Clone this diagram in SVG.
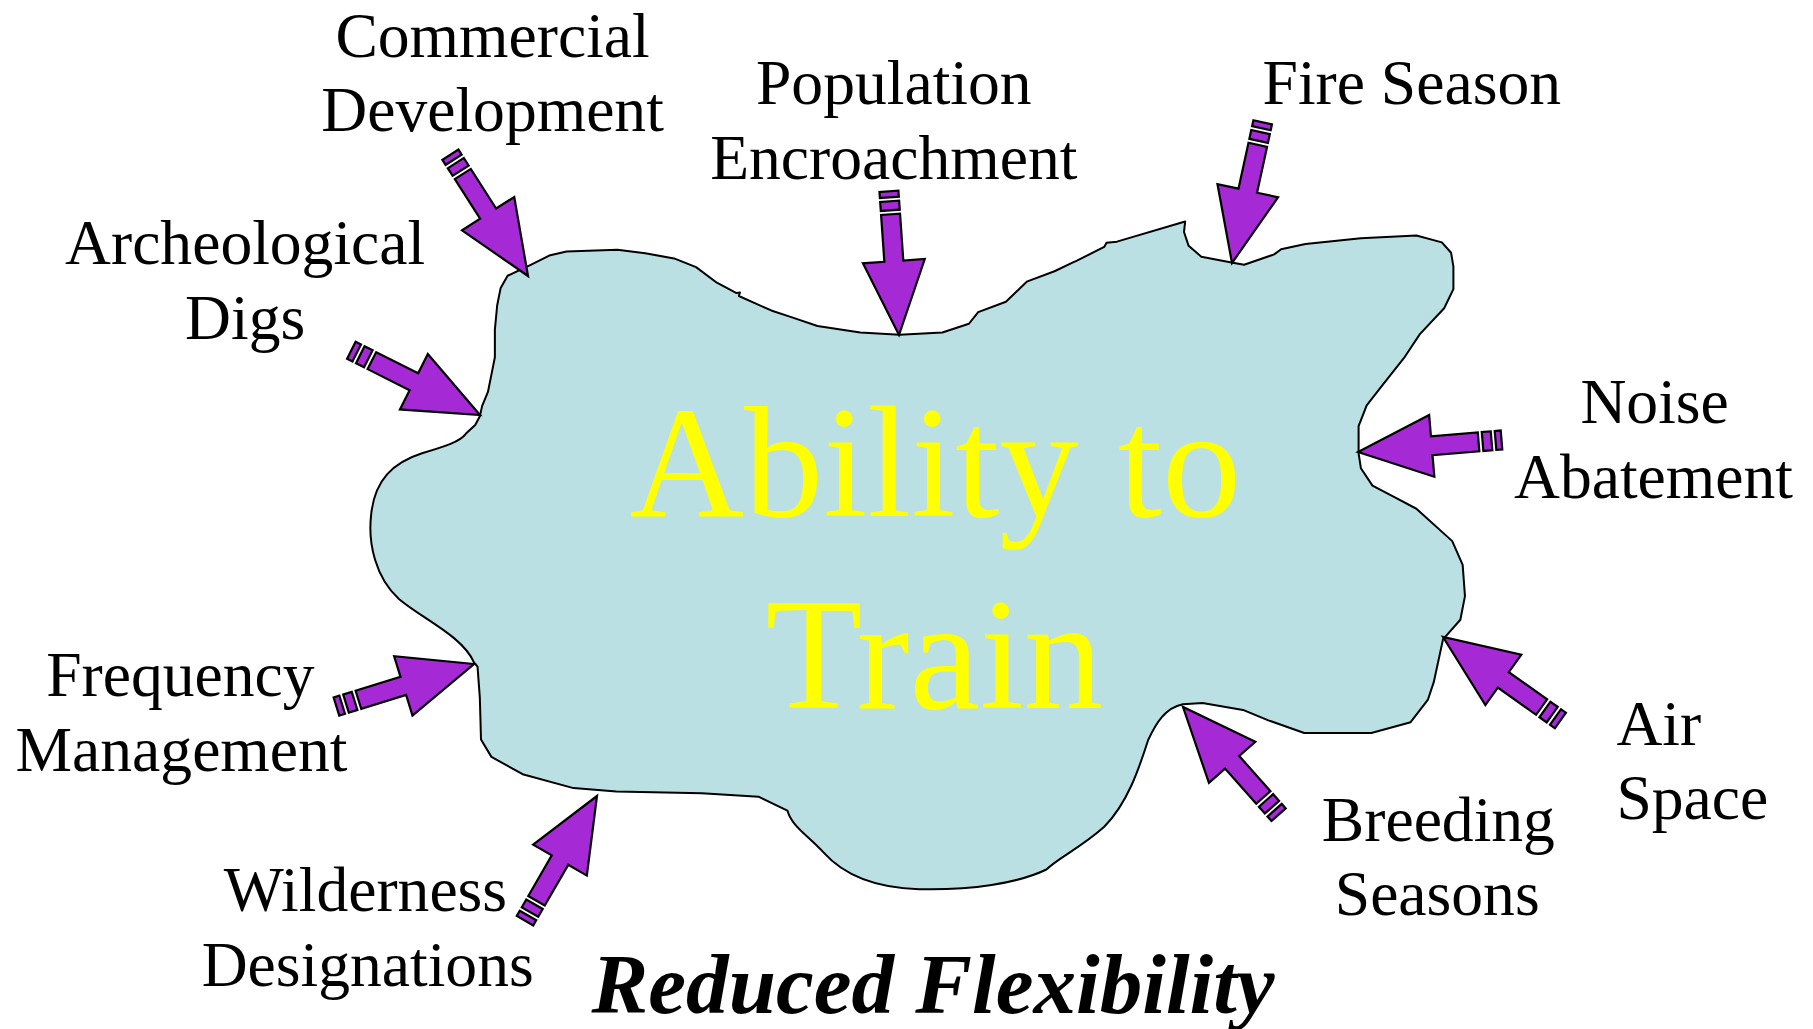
<svg xmlns="http://www.w3.org/2000/svg" width="1813" height="1029" viewBox="0 0 1813 1029">
<style>
.lbl{font-family:"Liberation Serif","Times New Roman",serif;font-size:55px;fill:#000;text-anchor:middle}
.big{font-family:"Liberation Serif","Times New Roman",serif;font-size:137px;fill:#FFFF00;text-anchor:middle}
.ttl{font-family:"Liberation Serif","Times New Roman",serif;font-size:73.6px;font-weight:bold;font-style:italic;fill:#000;text-anchor:middle}
.arr{fill:#A52AD5;stroke:#000;stroke-width:2.2;stroke-linejoin:miter}
.blob{fill:#BBE0E3;stroke:#000;stroke-width:2;stroke-linejoin:round}
</style>
<defs>
<g id="arrow">
<polygon class="arr" points="0,0 -74,-31 -74,-9.5 -121,-9.5 -121,9.5 -74,9.5 -74,31"/>
<rect class="arr" x="-134" y="-9.5" width="9" height="19"/>
<rect class="arr" x="-144" y="-9.5" width="6" height="19"/>
</g>
</defs>
<rect width="1813" height="1029" fill="#fff"/>
<g id="center-node" transform="scale(1.15625)">
<path class="blob" vector-effect="non-scaling-stroke" d="M459,229 L475,221 490,217.5 534,216 558,219 583,223.5 602,231 620,244.5 637,253.5 640,253 639,256 667,268.5 685,274.5 707,282 744,287.5 778,289.5 815,287.6 838,280 846,270 870,261 888,243.6 912,234.6 928,227 931,225.6 955,213.6 957,210 966,209 1025,191.6 1024,200.6 1028,212.6 1039,222 1065,227 1076,229 1102,220 1108,215.6 1129,211 1177,206 1225,203.6 1247,209.6 1255,218.6 1257,230.6 1257,250 1249,266.6 1228,289 1215,308.6 1196,332.6 1182,350.6 1175,368.6 1175,392 1177,405 1187,420 1206,430 1225,440 1256,468 1265,488.6 1267,515.6 1263,536 1248,553 1240,590 1235,605 1220,624.6 1186,634 1128,634 1097,623 1075,614 1040,608 1023,609 C1008,612 1000,625 993,640 C985,665 975,695 955,715 C935,733 915,742 905,752 C880,764 840,770 795,769 C755,768 728,755 712,737 C698,722 685,715 681,701 L656,689 607,686 533,684.6 496,681.6 452,669.6 425,654.6 416,639.6 415,603.6 413,576.6 410,573 C400,550 365,535 345,518 C325,500 318,470 321,445 C324,415 340,400 365,392 C385,386 398,382 403,375 L411,367.5 415,360 417,351 422,339 425,324 428,309 428,285 430,264 433,249 439,238.5 Z"/>
<text class="big" x="809" y="446">Ability to</text>
<text class="big" x="808" y="612">Train</text>
</g>
<g id="connectors">
<use href="#arrow" transform="translate(528,276) rotate(57.4)"/>
<use href="#arrow" transform="translate(480,415) rotate(26.7)"/>
<use href="#arrow" transform="translate(474,664) rotate(-17.2)"/>
<use href="#arrow" transform="translate(597,796) rotate(-60)"/>
<use href="#arrow" transform="translate(899,335) rotate(86)"/>
<use href="#arrow" transform="translate(1232,263) rotate(102.3)"/>
<use href="#arrow" transform="translate(1358,452) rotate(175.2)"/>
<use href="#arrow" transform="translate(1443,637) rotate(215.4)"/>
<use href="#arrow" transform="translate(1183,707) rotate(228.4)"/>
</g>
<g transform="scale(1.15625)">
<g id="commercial-development"><text class="lbl" x="426" y="49">Commercial</text><text class="lbl" x="426" y="113">Development</text></g>
<g id="population-encroachment"><text class="lbl" x="773" y="90">Population</text><text class="lbl" x="773" y="155">Encroachment</text></g>
<g id="fire-season"><text class="lbl" x="1221" y="90">Fire Season</text></g>
<g id="archeological-digs"><text class="lbl" x="212" y="228">Archeological</text><text class="lbl" x="212" y="293">Digs</text></g>
<g id="noise-abatement"><text class="lbl" x="1431" y="366">Noise</text><text class="lbl" x="1430" y="431">Abatement</text></g>
<g id="frequency-management"><text class="lbl" x="156" y="602">Frequency</text><text class="lbl" x="157" y="667">Management</text></g>
<g id="air-space"><text class="lbl" x="1398" y="644" style="text-anchor:start">Air</text><text class="lbl" x="1398" y="708" style="text-anchor:start">Space</text></g>
<g id="breeding-seasons"><text class="lbl" x="1244" y="727">Breeding</text><text class="lbl" x="1243" y="791">Seasons</text></g>
<g id="wilderness-designations"><text class="lbl" x="316" y="788">Wilderness</text><text class="lbl" x="318" y="853">Designations</text></g>
<g id="title"><text class="ttl" x="807" y="876">Reduced Flexibility</text></g>
</g>
</svg>
